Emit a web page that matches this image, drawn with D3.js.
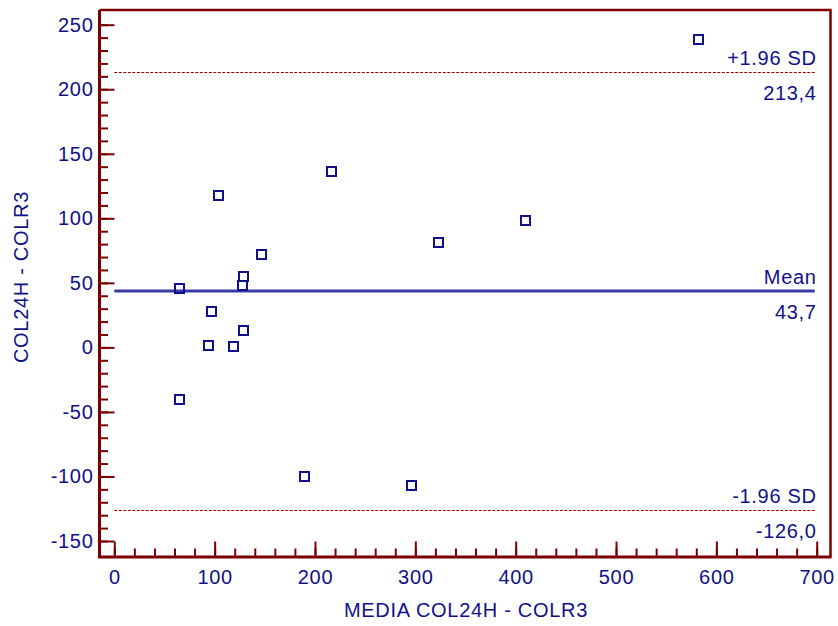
<!DOCTYPE html>
<html>
<head>
<meta charset="utf-8">
<script src="https://cdn.jsdelivr.net/npm/d3@7"></script>
<style>
  body { margin: 0; background: #fff; }
  svg text { font-family: "Liberation Sans", Arial, sans-serif; fill: #10108a; letter-spacing: 0.7px; }
</style>
</head>
<body>
<svg id="bland" width="838" height="626"></svg>
<script>
// Bland-Altman plot: COL24H vs COLR3

// means (x) and differences (y)
const meanValues = [582, 216, 103, 409, 323, 146, 128, 127, 64.5, 96.5, 128, 93.5, 118, 64.5, 189, 295.5];
const diffValues = [239, 137, 118, 99, 82, 72, 55, 48, 46, 28, 13.5, 2, 1, -40, -100, -106.5];

const xTicks = [0, 100, 200, 300, 400, 500, 600, 700];
const yTicks = [-150, -100, -50, 0, 50, 100, 150, 200, 250];

const meanDiff = 43.7;
const upperLimit = 213.4;
const lowerLimit = -126.0;

const svg = d3.select('svg#bland');
const frame = {left: 99.5, right: 830.5, top: 10, bottom: 557};

const xScale = d3.scaleLinear().domain([0, 700]).range([114.3, 816.7]);
const yScale = d3.scaleLinear().domain([-150, 250]).range([541, 24.7]);

const axisColor = '#7a0000';
const comma = d => d.toFixed(1).replace('.', ',');

// reference lines
const refs = [
    {v: upperLimit, label: '+1.96 SD', dash: true},
    {v: meanDiff, label: 'Mean', dash: false},
    {v: lowerLimit, label: '-1.96 SD', dash: true}
];

refs.forEach(r => {
    const y = r.dash ? Math.round(yScale(r.v)) + 0.5 : yScale(r.v);
    svg.append('line')
        .attr('x1', xScale(0)).attr('x2', xScale(700) - 2)
        .attr('y1', y).attr('y2', y)
        .attr('stroke', r.dash ? '#9a0000' : '#3a3aa0')
        .attr('stroke-width', r.dash ? 1 : 3)
        .attr('stroke-dasharray', r.dash ? '3,1.5' : null);
    svg.append('text')
        .attr('x', xScale(700)).attr('y', yScale(r.v) - 7)
        .attr('text-anchor', 'end').attr('font-size', 20)
        .text(r.label);
    svg.append('text')
        .attr('x', xScale(700)).attr('y', yScale(r.v) + 28)
        .attr('text-anchor', 'end').attr('font-size', 20)
        .text(comma(r.v));
});

// points
svg.append('g').selectAll('rect')
    .data(meanValues.map((m, i) => [m, diffValues[i]]))
    .enter().append('rect')
    .attr('x', d => Math.round(xScale(d[0])) - 4)
    .attr('y', d => Math.round(yScale(d[1])) - 4)
    .attr('width', 9).attr('height', 9)
    .attr('fill', 'none')
    .attr('stroke', '#10108a')
    .attr('stroke-width', 2);

// frame
svg.append('path')
    .attr('d', `M${frame.left},${frame.top}H${frame.right}V${frame.bottom}`)
    .attr('fill', 'none').attr('stroke', axisColor).attr('stroke-width', 2.5);

// y ticks (inside, pointing right)
const yMinor = svg.append('g').attr('transform', `translate(${frame.left},0)`)
    .call(d3.axisRight(yScale).tickValues(d3.range(-150, 251, 10)).tickSize(8.5).tickFormat(''));
const yMajor = svg.append('g').attr('transform', `translate(${frame.left},0)`)
    .call(d3.axisRight(yScale).tickValues(yTicks).tickSize(15).tickFormat(''));
const yLabels = svg.append('g').attr('transform', `translate(${frame.left},0)`)
    .call(d3.axisLeft(yScale).tickValues(yTicks).tickSize(0).tickPadding(6));

// x ticks (inside, pointing up)
const xMinor = svg.append('g').attr('transform', `translate(0,${frame.bottom})`)
    .call(d3.axisTop(xScale).tickValues(d3.range(0, 701, 20)).tickSize(8.5).tickFormat(''));
const xMajor = svg.append('g').attr('transform', `translate(0,${frame.bottom})`)
    .call(d3.axisTop(xScale).tickValues(xTicks).tickSize(15.5).tickFormat(''));
const xLabels = svg.append('g').attr('transform', `translate(0,${frame.bottom})`)
    .call(d3.axisBottom(xScale).tickValues(xTicks).tickSize(0).tickPadding(13));

[yMinor, yMajor, xMinor, xMajor].forEach(g => {
    g.select('.domain').remove();
    g.selectAll('.tick line').attr('stroke', axisColor).attr('stroke-width', 2);
});
[yLabels, xLabels].forEach(g => {
    g.select('.domain').remove();
    g.selectAll('text').attr('font-size', 20).attr('font-family', null).attr('fill', null);
});
yLabels.selectAll('text').text(d => d);

// left and bottom axis lines
svg.append('path')
    .attr('d', `M${frame.left},${frame.top}V${frame.bottom}H${frame.right + 1}`)
    .attr('fill', 'none').attr('stroke', axisColor).attr('stroke-width', 3);

// titles
svg.append('text')
    .attr('x', 466).attr('y', 617)
    .attr('text-anchor', 'middle').attr('font-size', 20)
    .text('MEDIA COL24H - COLR3');
svg.append('text')
    .attr('transform', 'translate(28,277) rotate(-90)')
    .attr('text-anchor', 'middle').attr('font-size', 20)
    .text('COL24H - COLR3');
</script>
</body>
</html>
